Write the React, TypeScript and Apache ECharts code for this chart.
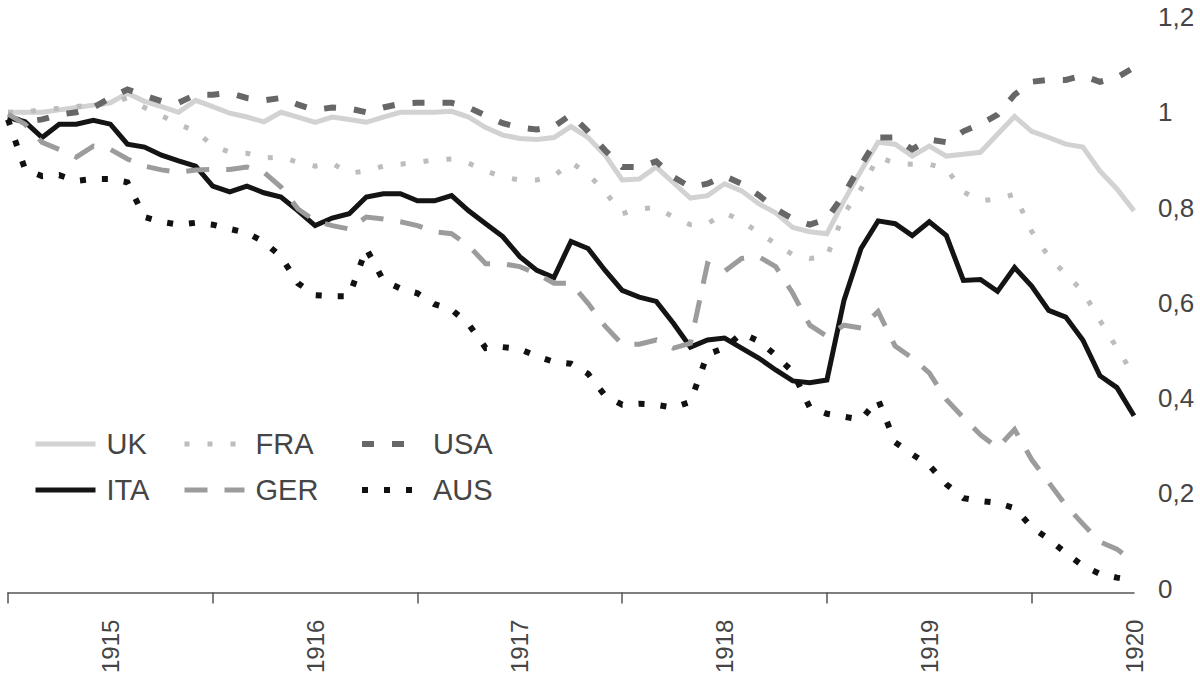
import React, { useEffect, useRef } from "react";
import * as echarts from "echarts";

// Monthly index values, Jan 1915 (index 0) to Jul 1920 (index 66)
const monthIndex: number[] = Array.from({ length: 67 }, (_, i) => i);

const UK = [1.0, 1.0, 1.0, 1.005, 1.01, 1.015, 1.02, 1.04, 1.023, 1.012, 1.0, 1.025, 1.012, 0.998, 0.99, 0.98, 1.0, 0.99, 0.979, 0.99, 0.985, 0.979, 0.99, 1.0,
  1.0, 1.0, 1.002, 0.99, 0.968, 0.952, 0.945, 0.943, 0.947, 0.97, 0.947, 0.91, 0.858, 0.86, 0.885, 0.852, 0.82, 0.825, 0.85, 0.835, 0.808, 0.789, 0.758, 0.749,
  0.745, 0.814, 0.877, 0.937, 0.933, 0.908, 0.929, 0.908, 0.912, 0.916, 0.954, 0.991, 0.96, 0.947, 0.933, 0.927, 0.877, 0.839, 0.793];
const FRA = [1.0, 1.0, 1.006, 1.008, 1.012, 1.016, 1.019, 1.03, 1.01, 0.993, 0.975, 0.96, 0.93, 0.916, 0.914, 0.904, 0.906, 0.895, 0.887, 0.893, 0.872, 0.877, 0.887, 0.891,
  0.895, 0.9, 0.902, 0.893, 0.877, 0.864, 0.858, 0.858, 0.866, 0.895, 0.87, 0.833, 0.787, 0.797, 0.8, 0.78, 0.764, 0.766, 0.789, 0.772, 0.747, 0.724, 0.701, 0.693,
  0.697, 0.787, 0.839, 0.906, 0.893, 0.891, 0.891, 0.881, 0.833, 0.814, 0.818, 0.828, 0.75, 0.697, 0.66, 0.624, 0.563, 0.505, 0.447];
const USA = [0.99, 0.98, 0.985, 0.995, 1.0, 1.01, 1.03, 1.048, 1.035, 1.023, 1.02, 1.037, 1.037, 1.04, 1.03, 1.025, 1.03, 1.016, 1.005, 1.01, 1.008, 1.0, 1.01, 1.018,
  1.02, 1.02, 1.02, 1.01, 0.993, 0.977, 0.968, 0.964, 0.97, 0.995, 0.96, 0.92, 0.885, 0.885, 0.897, 0.864, 0.843, 0.85, 0.866, 0.85, 0.826, 0.797, 0.776, 0.764,
  0.776, 0.828, 0.889, 0.947, 0.947, 0.922, 0.943, 0.937, 0.96, 0.975, 0.995, 1.037, 1.064, 1.068, 1.068, 1.077, 1.064, 1.073, 1.094];
const ITA = [0.99, 0.98, 0.947, 0.975, 0.975, 0.983, 0.975, 0.933, 0.927, 0.91, 0.898, 0.887, 0.845, 0.833, 0.845, 0.831, 0.822, 0.793, 0.762, 0.778, 0.787, 0.822, 0.829, 0.829,
  0.814, 0.814, 0.825, 0.793, 0.766, 0.739, 0.697, 0.668, 0.653, 0.729, 0.714, 0.668, 0.626, 0.612, 0.603, 0.557, 0.507, 0.522, 0.526, 0.505, 0.484, 0.459, 0.436, 0.432,
  0.438, 0.605, 0.714, 0.772, 0.766, 0.741, 0.77, 0.741, 0.647, 0.649, 0.624, 0.674, 0.635, 0.584, 0.57, 0.522, 0.447, 0.422, 0.363];
const GER = [0.996, 0.975, 0.937, 0.922, 0.906, 0.929, 0.922, 0.902, 0.887, 0.879, 0.874, 0.879, 0.88, 0.88, 0.885, 0.874, 0.843, 0.797, 0.772, 0.762, 0.755, 0.78, 0.776, 0.77,
  0.762, 0.749, 0.745, 0.72, 0.682, 0.682, 0.676, 0.661, 0.641, 0.641, 0.599, 0.551, 0.513, 0.513, 0.522, 0.505, 0.515, 0.682, 0.666, 0.693, 0.697, 0.676, 0.62, 0.553,
  0.53, 0.553, 0.547, 0.582, 0.509, 0.484, 0.453, 0.397, 0.359, 0.323, 0.296, 0.334, 0.271, 0.223, 0.175, 0.136, 0.098, 0.083, 0.056];
const AUS = [0.985, 0.88, 0.866, 0.868, 0.856, 0.86, 0.86, 0.853, 0.78, 0.77, 0.764, 0.768, 0.764, 0.755, 0.747, 0.728, 0.697, 0.641, 0.616, 0.614, 0.614, 0.714, 0.647, 0.63,
  0.62, 0.597, 0.586, 0.555, 0.505, 0.507, 0.503, 0.488, 0.476, 0.472, 0.451, 0.405, 0.386, 0.388, 0.386, 0.38, 0.392, 0.492, 0.505, 0.536, 0.52, 0.49, 0.455, 0.38,
  0.367, 0.361, 0.355, 0.397, 0.307, 0.282, 0.259, 0.219, 0.19, 0.184, 0.18, 0.169, 0.129, 0.104, 0.075, 0.048, 0.031, 0.023, 0.017];

const yearTicks = [0, 12, 24, 36, 48, 60];
const yearLabelPositions = [6, 18, 30, 42, 54, 66];
const yearLabels = ["1915", "1916", "1917", "1918", "1919", "1920"];

const FONT = "'Liberation Sans Narrow', 'Liberation Sans', sans-serif";

function toPairs(vals: number[]) {
  return vals.map((v, i) => [monthIndex[i], v]);
}

export default function App() {
  const ref = useRef<HTMLDivElement>(null);
  useEffect(() => {
    if (!ref.current) return;
    const chart = echarts.init(ref.current, null, { renderer: "svg" });
    const mk = (name: string, data: number[], color: string, width: number, type: any) => ({
      name,
      type: "line",
      data: toPairs(data),
      symbol: "none",
      showSymbol: false,
      lineStyle: { color, width, type, cap: "butt", join: "miter" },
      itemStyle: { color },
    });
    const legendBase = (left: number, names: string[]) => ({
      data: names,
      orient: "vertical",
      left,
      top: 424,
      itemWidth: 60,
      itemHeight: 14,
      itemGap: 16,
      selectedMode: false,
      itemStyle: { opacity: 0 },
      lineStyle: { width: "inherit", type: "inherit", cap: "butt" },
      textStyle: { fontFamily: FONT, fontSize: 29, color: "#454545", lineHeight: 30, padding: [0, 0, 0, 6] },
    });
    chart.setOption({
      animation: false,
      backgroundColor: "#ffffff",
      grid: { left: 8, right: 66, top: 17, bottom: 84, containLabel: false },
      legend: [
        legendBase(28, ["UK", "ITA"]),
        legendBase(177, ["FRA", "GER"]),
        legendBase(354, ["USA", "AUS"]),
      ],
      xAxis: {
        type: "value",
        min: 0,
        max: 66,
        offset: 4,
        splitLine: { show: false },
        axisLine: { show: true, onZero: false, lineStyle: { color: "#555", width: 1.5 } },
        axisTick: { show: true, customValues: yearTicks, length: 11, lineStyle: { color: "#555", width: 1.5 } },
        axisLabel: {
          show: true,
          customValues: yearLabelPositions,
          rotate: 90,
          margin: 27,
          fontFamily: FONT,
          fontSize: 24,
          color: "#454545",
          formatter: (v: number) => yearLabels[yearLabelPositions.indexOf(v)] ?? "",
        },
      },
      yAxis: {
        type: "value",
        position: "right",
        min: 0,
        max: 1.2,
        interval: 0.2,
        splitLine: { show: false },
        axisLine: { show: false },
        axisTick: { show: false },
        axisLabel: {
          margin: 24,
          fontFamily: FONT,
          fontSize: 26,
          color: "#454545",
          formatter: (v: number) => String(Math.round(v * 10) / 10).replace(".", ","),
        },
      },
      series: [
        mk("UK", UK, "#d2d2d2", 5, "solid"),
        mk("FRA", FRA, "#bdbdbd", 5, [5, 18]),
        mk("USA", USA, "#676767", 6, [12, 18]),
        mk("ITA", ITA, "#141414", 5, "solid"),
        mk("GER", GER, "#9c9c9c", 5, [23, 17]),
        mk("AUS", AUS, "#111111", 6, [6, 16]),
      ],
    });
    return () => chart.dispose();
  }, []);
  return (
    <div
      ref={ref}
      style={{ position: "absolute", left: 0, top: 0, width: 1200, height: 676, background: "#fff" }}
    />
  );
}
